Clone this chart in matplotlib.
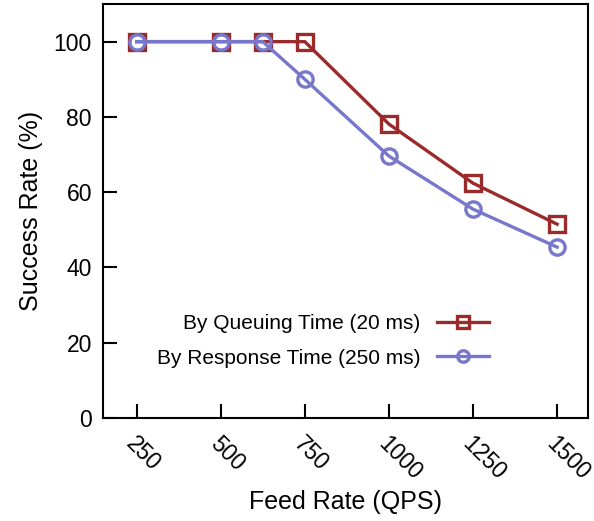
import matplotlib
matplotlib.use("Agg")
import matplotlib.pyplot as plt
import matplotlib.transforms as mtransforms

feed_rate = [250, 500, 625, 750, 1000, 1250, 1500]
by_queuing = [100, 100, 100, 100, 78.1, 62.4, 51.5]
by_response = [100, 100, 100, 90.0, 69.6, 55.5, 45.4]
xticks = [250, 500, 750, 1000, 1250, 1500]
yticks = [0, 20, 40, 60, 80, 100]

plt.rcParams['font.family'] = ['Liberation Sans', 'DejaVu Sans']

fig = plt.figure(figsize=(5.94, 5.21), dpi=100)
ax = fig.add_axes([103/594, 1 - 418/521, 485/594, 414/521])

red = '#9b2a2a'
blue = '#7777cc'
ax.plot(feed_rate, by_queuing, color=red, lw=2.4, marker='s', ms=11,
        mfc='none', mew=2.4, label='By Queuing Time (20 ms)')
ax.plot(feed_rate, by_response, color=blue, lw=2.4, marker='o', ms=11,
        mfc='none', mew=2.4, label='By Response Time (250 ms)')

ax.set_xlim(150, 1592)
ax.set_ylim(0, 110)
ax.set_xticks(xticks)
ax.set_yticks(yticks)
ax.tick_params(direction='in', length=10, width=1.5, labelsize=16.5,
               top=False, right=False)
ax.tick_params(axis='y', pad=8)
ax.tick_params(axis='x', pad=16)
shift = mtransforms.ScaledTranslation(-7/100, 0, fig.dpi_scale_trans)
for lbl in ax.get_xticklabels():
    lbl.set_rotation(-45)
    lbl.set_ha('left')
    lbl.set_va('center')
    lbl.set_rotation_mode('anchor')
    lbl.set_transform(lbl.get_transform() + shift)
for s in ax.spines.values():
    s.set_linewidth(1.5)

ax.set_xlabel('Feed Rate (QPS)', fontsize=18, labelpad=4)
ax.set_ylabel('Success Rate (%)', fontsize=18, labelpad=8)

ax.legend(loc='upper right', bbox_to_anchor=(489/594, 1 - 314/521),
          bbox_transform=fig.transFigure, frameon=False, borderpad=0,
          borderaxespad=0, markerfirst=False, fontsize=15, handlelength=2.5,
          labelspacing=0.75, markerscale=0.75)

fig.savefig('out.png', dpi=100)
